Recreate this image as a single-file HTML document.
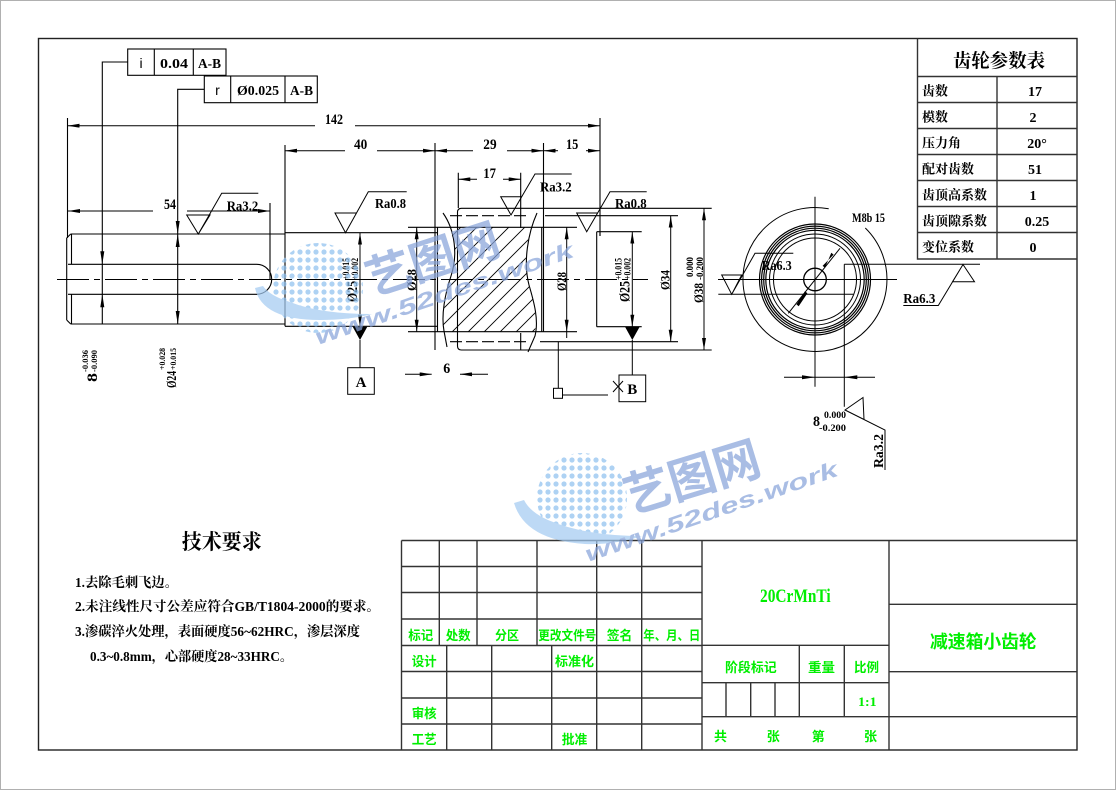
<!DOCTYPE html>
<html><head><meta charset="utf-8"><style>
html,body{margin:0;padding:0;background:#fff;}
svg{display:block;}
.t{font-family:"Liberation Serif","Noto Serif CJK SC",serif;font-weight:bold;fill:#000;}
.c{font-family:"Liberation Serif","Noto Serif CJK SC",serif;font-weight:bold;fill:#000;}
.g{font-family:"Liberation Serif","Noto Sans CJK SC",sans-serif;font-weight:bold;fill:#00ee00;}
.s{font-family:"Liberation Sans",sans-serif;fill:#000;}
.wm{font-family:"Liberation Sans","Noto Sans CJK SC",sans-serif;font-weight:bold;fill:#87a4da;}
</style></head><body>
<svg width="1116" height="790" viewBox="0 0 1116 790" xmlns="http://www.w3.org/2000/svg">
<defs>
<marker id="a" viewBox="0 -2 12 4" refX="12" refY="0" markerWidth="12" markerHeight="4" markerUnits="userSpaceOnUse" orient="auto-start-reverse"><path d="M0,-2L12,0L0,2z" fill="#000"/></marker>
<pattern id="h" width="16" height="16" patternUnits="userSpaceOnUse"><path d="M-2,18L18,-2M-2,2L2,-2M14,18L18,14" stroke="#000" stroke-width="0.9"/></pattern>
<clipPath id="hc"><path d="M449,227.3L531,227.3C525,250 524,270 529,285C534,302 537,318 535,331.7L444,331.7C442,318 445,294 451,276C456,260 455,240 449,227.3Z"/></clipPath>
<pattern id="d" width="8" height="8" patternUnits="userSpaceOnUse"><circle cx="4" cy="4" r="2.6" fill="#8fc0ef"/></pattern>
</defs>
<rect x="0.5" y="0.5" width="1115" height="789" fill="#fff" stroke="#b0b0b0"/>
<!-- frame -->
<rect x="38.5" y="38.5" width="1038.5" height="711.5" fill="none" stroke="#222" stroke-width="1.4"/>

<!-- gear parameter table -->
<g stroke="#333" stroke-width="1.4" fill="none">
<path d="M917.5,38.5V259H1077M917.5,76.5H1077M917.5,102.5H1077M917.5,128.5H1077M917.5,154.5H1077M917.5,180.5H1077M917.5,206.5H1077M917.5,232.5H1077M997,76.5V259"/>
</g>
<text class="c" x="953" y="67" font-size="19" textLength="92" lengthAdjust="spacingAndGlyphs">齿轮参数表</text>
<g class="c" font-size="13">
<text x="922" y="95.5" textLength="26" lengthAdjust="spacingAndGlyphs">齿数</text>
<text x="922" y="121.5" textLength="26" lengthAdjust="spacingAndGlyphs">模数</text>
<text x="922" y="147.5" textLength="39" lengthAdjust="spacingAndGlyphs">压力角</text>
<text x="922" y="173.5" textLength="52" lengthAdjust="spacingAndGlyphs">配对齿数</text>
<text x="922" y="199.5" textLength="65" lengthAdjust="spacingAndGlyphs">齿顶高系数</text>
<text x="922" y="225.5" textLength="65" lengthAdjust="spacingAndGlyphs">齿顶隙系数</text>
<text x="922" y="251.5" textLength="52" lengthAdjust="spacingAndGlyphs">变位系数</text>
</g>
<g class="t" font-size="14" text-anchor="middle">
<text x="1035" y="96">17</text><text x="1033" y="122">2</text><text x="1037" y="148">20°</text>
<text x="1035" y="174">51</text><text x="1033" y="200">1</text><text x="1037" y="226">0.25</text><text x="1033" y="252">0</text>
</g>

<!-- title block -->
<g stroke="#333" stroke-width="1.4" fill="none">
<path d="M401.5,540.5H1077M401.5,540.5V750M401.5,566.5H702M401.5,592.5H702M401.5,619H702M401.5,645.5H702M401.5,671.5H702M401.5,698H702M401.5,724H702"/>
<path d="M439.3,540.5V645.5M477,540.5V645.5M537,540.5V645.5M596.7,540.5V750M641.7,540.5V750M446.7,645.5V750M491.7,645.5V750M551.7,645.5V750"/>
<path d="M702,540.5V750M889,540.5V750M702,645.3H889M702,682.7H889M702,716.7H889M799.3,645.3V716.7M844.3,645.3V716.7M726,682.7V716.7M750.7,682.7V716.7M775,682.7V716.7"/>
<path d="M889,604.3H1077M889,671.7H1077M889,716.7H1077"/>
</g>
<g class="g" font-size="13">
<text x="408.3" y="640" textLength="25" lengthAdjust="spacingAndGlyphs">标记</text>
<text x="445.7" y="640" textLength="25" lengthAdjust="spacingAndGlyphs">处数</text>
<text x="495" y="640" textLength="24" lengthAdjust="spacingAndGlyphs">分区</text>
<text x="538.3" y="640" textLength="58" lengthAdjust="spacingAndGlyphs">更改文件号</text>
<text x="606.7" y="640" textLength="25.6" lengthAdjust="spacingAndGlyphs">签名</text>
<text x="643.3" y="640" textLength="57" lengthAdjust="spacingAndGlyphs">年、月、日</text>
<text x="411.7" y="666" textLength="25" lengthAdjust="spacingAndGlyphs">设计</text>
<text x="555" y="666" textLength="39" lengthAdjust="spacingAndGlyphs">标准化</text>
<text x="411.7" y="718" textLength="25" lengthAdjust="spacingAndGlyphs">审核</text>
<text x="411.7" y="744" textLength="25" lengthAdjust="spacingAndGlyphs">工艺</text>
<text x="561.7" y="744" textLength="25.6" lengthAdjust="spacingAndGlyphs">批准</text>
<text x="725" y="672" textLength="51.7" lengthAdjust="spacingAndGlyphs">阶段标记</text>
<text x="808" y="672" textLength="27" lengthAdjust="spacingAndGlyphs">重量</text>
<text x="854" y="672" textLength="25" lengthAdjust="spacingAndGlyphs">比例</text>
<text x="858" y="706" textLength="18.7" lengthAdjust="spacingAndGlyphs">1:1</text>
<text x="714" y="741">共</text><text x="766.7" y="741">张</text><text x="811.7" y="741">第</text><text x="864" y="741">张</text>
</g>
<text class="g" x="760" y="602" font-size="19" textLength="70.7" lengthAdjust="spacingAndGlyphs">20CrMnTi</text>
<text class="g" x="930" y="648" font-size="18" textLength="106.7" lengthAdjust="spacingAndGlyphs">减速箱小齿轮</text>

<!-- technical requirements -->
<text class="c" x="181.7" y="549" font-size="21" textLength="80" lengthAdjust="spacingAndGlyphs">技术要求</text>
<g class="c" font-size="13.5">
<text x="75" y="587" textLength="103" lengthAdjust="spacingAndGlyphs">1.去除毛刺飞边。</text>
<text x="75" y="611" textLength="305" lengthAdjust="spacingAndGlyphs">2.未注线性尺寸公差应符合GB/T1804-2000的要求。</text>
<text x="75" y="636" textLength="285" lengthAdjust="spacingAndGlyphs">3.渗碳淬火处理，表面硬度56~62HRC，渗层深度</text>
<text x="90" y="661" textLength="203" lengthAdjust="spacingAndGlyphs">0.3~0.8mm，心部硬度28~33HRC。</text>
</g>

<!-- ===== main shaft drawing ===== -->
<g stroke="#000" stroke-width="1.1" fill="none">
<!-- left d24 section -->
<path d="M70.7,234H285M70.7,324H285M66.7,238V320M66.7,238L70.7,234M66.7,320L70.7,324M71.5,234V264.3M71.5,294.3V324"/>
<path d="M68,264.3H256.7A15,15 0 0 1 256.7,294.3H68"/>
<!-- d25 left journal -->
<path d="M285,145V326.3M285,232.7H437.5M285,326.3H437.5"/>
<!-- extension lines -->
<path d="M67.5,118V238M270,203V279M600,118V236M435,143V350M543.5,143V331.7M458.3,172.7V208M520.7,172.7V228M520.7,333V350"/>
<!-- d28 lines -->
<path d="M408,227.3H577M408,331.7H577M437.5,227.3V331.7M541.7,227.3V331.7"/>
<!-- gear outline -->
<path d="M711.7,208.3H461.5Q457.5,208.3 457.5,212.3V346Q457.5,350 461.5,350H711.7"/>
<path d="M545,215.7H678M540,341.7H678"/>
<path d="M450,215.7H530M450,341.7H530" stroke-dasharray="12 4"/>
<!-- break lines -->
<path d="M443,213C455,230 458,255 451,276C445,294 441,315 444,331L447,347"/>
<path d="M537,213C528,233 523,262 529,285C534,302 539,320 535,336L528,352"/>
<!-- right journal -->
<path d="M596.7,231.7V326.7M596.7,231.7H641.7M596.7,326.7H641.7M600,231.7V236"/>
<!-- centerline -->
<path d="M57,279.5H648" stroke-width="0.9" stroke-dasharray="32 5 6 5"/>
</g>
<rect x="440" y="226" width="100" height="107" fill="url(#h)" clip-path="url(#hc)"/>

<!-- feature control frames -->
<g stroke="#000" stroke-width="1.1" fill="none">
<rect x="127.7" y="49" width="98.3" height="26.3"/><path d="M154.3,49V75.3M193.3,49V75.3"/>
<rect x="204.3" y="76" width="113" height="26.7"/><path d="M230.7,76V102.7M285,76V102.7"/>
<path d="M127.7,62H102.3V324M204.3,89.3H177.7V324"/>
</g>
<text class="s" x="141" y="68" font-size="14" text-anchor="middle">i</text>
<text class="t" x="160" y="68" font-size="14" textLength="28" lengthAdjust="spacingAndGlyphs">0.04</text>
<text class="t" x="198" y="68" font-size="14" textLength="23" lengthAdjust="spacingAndGlyphs">A-B</text>
<text class="s" x="217.5" y="95" font-size="14" text-anchor="middle">r</text>
<text class="t" x="237" y="95" font-size="14" textLength="42" lengthAdjust="spacingAndGlyphs">Ø0.025</text>
<text class="t" x="290" y="95" font-size="14" textLength="23" lengthAdjust="spacingAndGlyphs">A-B</text>
<g fill="#000">
<path d="M100.3,251.3H104.3L102.3,264.3zM100.3,307.3H104.3L102.3,294.3z"/>
<path d="M175.7,221H179.7L177.7,234zM175.7,247H179.7L177.7,234zM175.7,311H179.7L177.7,324z"/>
</g>

<!-- horizontal dimensions -->
<g stroke="#000" stroke-width="1" fill="none" marker-start="url(#a)">
<path d="M67.5,125.7H315"/><path d="M285,150.7H345"/><path d="M435,150.7H473"/><path d="M543.5,150.7H558"/>
<path d="M458.3,179.3H477"/><path d="M68,211H153"/>
</g>
<g stroke="#000" stroke-width="1" fill="none" marker-end="url(#a)">
<path d="M355,125.7H600"/><path d="M377,150.7H435"/><path d="M507,150.7H543.5"/><path d="M586,150.7H600"/>
<path d="M503,179.3H520.7"/><path d="M187,211H270"/>
<path d="M405,374.3H431.7"/><path d="M488,374.3H460"/>
</g>
<g class="t" font-size="15">
<text x="325" y="124" textLength="18" lengthAdjust="spacingAndGlyphs">142</text>
<text x="354" y="149" textLength="13.3" lengthAdjust="spacingAndGlyphs">40</text>
<text x="483.3" y="149" textLength="13.3" lengthAdjust="spacingAndGlyphs">29</text>
<text x="566" y="149" textLength="12.3" lengthAdjust="spacingAndGlyphs">15</text>
<text x="483.3" y="178" textLength="12.7" lengthAdjust="spacingAndGlyphs">17</text>
<text x="164" y="209" textLength="12" lengthAdjust="spacingAndGlyphs">54</text>
<text x="443.3" y="373" textLength="7" lengthAdjust="spacingAndGlyphs">6</text>
</g>

<!-- vertical dimensions -->
<g stroke="#000" stroke-width="1" fill="none" marker-start="url(#a)" marker-end="url(#a)">
<path d="M416.7,227.3V331.7"/><path d="M360,232.7V326.7"/><path d="M566.7,227.3V331.7"/>
<path d="M632.3,231.7V326.7"/><path d="M670.7,215.7V341.7"/><path d="M704,208.3V350"/>
</g>
<g stroke="#000" stroke-width="1" fill="none">
<path d="M566.7,331.7V338M360,340V367.7M632.3,340V375M558.3,341.7V388M562.5,395H608M613,381L623,392M613,392L623,381"/>
<rect x="347.7" y="367.7" width="26.6" height="26.6"/>
<rect x="619" y="375" width="26.7" height="26.7"/>
<rect x="553.5" y="388.3" width="9" height="10"/>
</g>
<path d="M352.7,326.7H367.3L360,340zM625,326.7H639.7L632.3,340z" fill="#000"/>
<text class="t" x="361" y="387" font-size="15" text-anchor="middle">A</text>
<text class="t" x="632.3" y="394" font-size="15" text-anchor="middle">B</text>

<!-- rotated labels -->
<g class="t">
<g transform="translate(357,302) rotate(-90)"><text font-size="15" textLength="21" lengthAdjust="spacingAndGlyphs">Ø25</text><text x="22" y="-8" font-size="9" textLength="22" lengthAdjust="spacingAndGlyphs">+0.015</text><text x="22" y="1" font-size="9" textLength="22" lengthAdjust="spacingAndGlyphs">+0.002</text></g>
<g transform="translate(629.5,302) rotate(-90)"><text font-size="15" textLength="21" lengthAdjust="spacingAndGlyphs">Ø25</text><text x="22" y="-8" font-size="9" textLength="22" lengthAdjust="spacingAndGlyphs">+0.015</text><text x="22" y="1" font-size="9" textLength="22" lengthAdjust="spacingAndGlyphs">+0.002</text></g>
<g transform="translate(416,291) rotate(-90)"><text font-size="13" textLength="22" lengthAdjust="spacingAndGlyphs">Ø28</text></g>
<g transform="translate(566,291) rotate(-90)"><text font-size="13" textLength="19" lengthAdjust="spacingAndGlyphs">Ø28</text></g>
<g transform="translate(669.5,290) rotate(-90)"><text font-size="13" textLength="20" lengthAdjust="spacingAndGlyphs">Ø34</text></g>
<g transform="translate(703,303) rotate(-90)"><text font-size="13" textLength="20" lengthAdjust="spacingAndGlyphs">Ø38</text><text x="26" y="-10" font-size="9" textLength="20" lengthAdjust="spacingAndGlyphs">0.000</text><text x="23" y="0" font-size="9" textLength="23" lengthAdjust="spacingAndGlyphs">-0.200</text></g>
<g transform="translate(97,382) rotate(-90)"><text font-size="15" textLength="9" lengthAdjust="spacingAndGlyphs">8</text><text x="10" y="-9" font-size="8.5" textLength="22" lengthAdjust="spacingAndGlyphs">-0.036</text><text x="10" y="0" font-size="8.5" textLength="22" lengthAdjust="spacingAndGlyphs">-0.090</text></g>
<g transform="translate(176,388) rotate(-90)"><text font-size="14" textLength="17" lengthAdjust="spacingAndGlyphs">Ø24</text><text x="18" y="-11" font-size="8.5" textLength="22" lengthAdjust="spacingAndGlyphs">+0.028</text><text x="18" y="0" font-size="8.5" textLength="22" lengthAdjust="spacingAndGlyphs">+0.015</text></g>
</g>

<!-- roughness symbols -->
<g stroke="#000" stroke-width="1" fill="none">
<path d="M186.7,215H210L198.3,234ZM198.3,234L221.7,193.3H258.3"/>
<path d="M335,213H356.5L345.5,232.7ZM345.5,232.7L368.3,191.7H406.7"/>
<path d="M500.7,196.7H521.7L511,215ZM511,215L535,174H571.7"/>
<path d="M576.7,213H597.6L586.7,231.7ZM586.7,231.7L610,191.7H646.7"/>
</g>
<g class="t" font-size="14">
<text x="226.7" y="210.5" textLength="31.6" lengthAdjust="spacingAndGlyphs">Ra3.2</text>
<text x="375" y="208" textLength="31" lengthAdjust="spacingAndGlyphs">Ra0.8</text>
<text x="540" y="191.5" textLength="31.7" lengthAdjust="spacingAndGlyphs">Ra3.2</text>
<text x="615" y="208" textLength="31.7" lengthAdjust="spacingAndGlyphs">Ra0.8</text>
</g>

<!-- ===== end view ===== -->
<g stroke="#000" stroke-width="1" fill="none">
<path d="M865.3,228A72,72 0 1 1 828.7,208.8"/>
<circle cx="815" cy="279.5" r="55.5" stroke-width="1.2"/>
<circle cx="815" cy="279.5" r="53.4" stroke-width="1.2"/>
<circle cx="815" cy="279.5" r="51.3" stroke-width="1.2"/>
<circle cx="815" cy="279.5" r="49.2" stroke-width="1.2"/>
<circle cx="815" cy="279.5" r="45.5"/>
<circle cx="815" cy="279.5" r="41.5"/>
<circle cx="815" cy="279.5" r="11.3" stroke-width="1.3"/>
<path d="M815,196.7V386.7M718,279.5H897M718.3,294.3H853.3M844.3,264.3V406.7M844.3,264.3H980M784,377.3H875"/>
<path d="M788.3,313.3L840,248.3"/>
<path d="M721.7,275H741.7L731.7,294.3ZM731.7,294.3L755,253.3H793.3"/>
<path d="M963,264.5L974.5,281.7H952.5ZM963,264.5L938.3,305.5H903.3"/>
<path d="M845,410L863,397.5L864,419.5ZM845,410L885,430V470"/>
</g>
<g fill="#000">
<path d="M805,291.3L796.4,304.4L798.7,306.2L807.4,293.2ZM825,267.7L831.3,252.8L833.6,254.6L822.6,265.9Z"/>
<path d="M802,375.3V379.3L815,377.3ZM857.3,375.3V379.3L844.3,377.3Z"/>
</g>
<g class="t">
<text x="852" y="222" font-size="13" textLength="33" lengthAdjust="spacingAndGlyphs">M8b 15</text>
<text x="761.7" y="270" font-size="14" textLength="30" lengthAdjust="spacingAndGlyphs">Ra6.3</text>
<text x="903.3" y="303" font-size="14" textLength="32" lengthAdjust="spacingAndGlyphs">Ra6.3</text>
<text x="813" y="426" font-size="15" textLength="7" lengthAdjust="spacingAndGlyphs">8</text>
<text x="824" y="418" font-size="9" textLength="22" lengthAdjust="spacingAndGlyphs">0.000</text>
<text x="819" y="431" font-size="9" textLength="27" lengthAdjust="spacingAndGlyphs">-0.200</text>
<g transform="translate(883,468) rotate(-90)"><text font-size="14" textLength="34" lengthAdjust="spacingAndGlyphs">Ra3.2</text></g>
</g>

<!-- ===== watermarks ===== -->
<g opacity="0.72">
<circle cx="318" cy="288" r="45" fill="url(#d)"/>
<path d="M255,288Q262,320 320,320Q350,320 372,314Q320,314 290,302Q270,296 263,286Z" fill="#a3cbf2"/>
<text class="wm" transform="translate(372,296) rotate(-18)" font-size="46" textLength="138" lengthAdjust="spacingAndGlyphs">艺图网</text>
<text class="wm" transform="translate(318,345) rotate(-19)" font-size="22" font-style="italic" textLength="272" lengthAdjust="spacingAndGlyphs">www.52des.work</text>
<circle cx="582" cy="498" r="45" fill="url(#d)"/>
<path d="M514,503Q525,540 585,544Q615,545 642,536Q585,536 548,520Q530,512 524,500Z" fill="#a3cbf2"/>
<text class="wm" transform="translate(630,514) rotate(-17)" font-size="48" textLength="140" lengthAdjust="spacingAndGlyphs">艺图网</text>
<text class="wm" transform="translate(588,562) rotate(-19)" font-size="22" font-style="italic" textLength="266" lengthAdjust="spacingAndGlyphs">www.52des.work</text>
</g>
</svg>
</body></html>
